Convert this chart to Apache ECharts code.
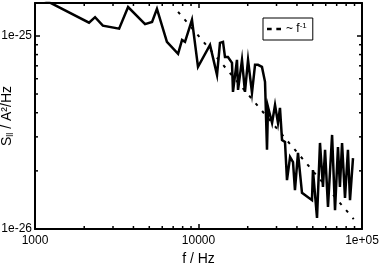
<!DOCTYPE html>
<html><head><meta charset="utf-8">
<script src="https://cdn.jsdelivr.net/npm/echarts@6/dist/echarts.min.js"></script>
<style>html,body{margin:0;padding:0;background:#fff}#c{width:380px;height:265px}</style>
</head><body><div id="c"></div>
<script>
// frequency in Hz; spectral density in units of 1e-26 A²/Hz
const freq = [1000, 2140, 2330, 2600, 3270, 3710, 4710, 5200, 5570, 6410, 7500, 7930, 8270, 9120, 9930, 11760, 12980, 13530, 14120, 14520, 15140, 16030, 16250, 17190, 17450, 18450, 19240, 20090, 21240, 22170, 23110, 24440, 25520, 26240, 26610, 28180, 29380, 30630, 31500, 32430, 33810, 34770, 36310, 37850, 38900, 40600, 42950, 49430, 50120, 53080, 55340, 57700, 59430, 61940, 65620, 68390, 71290, 73280, 75510, 78700, 82040, 84470, 88100];
const psd = [16.3, 11.7, 12.5, 11.3, 10.9, 14.1, 11.5, 11.8, 13.8, 9.31, 8.07, 9.53, 9.31, 12.1, 6.91, 8.98, 6.28, 9.2, 9.31, 7.78, 7.78, 7.25, 5.13, 7.51, 5.25, 7.51, 5.13, 7.51, 5.07, 7.08, 7.08, 6.91, 5.78, 2.57, 4.29, 3.54, 4.39, 3.54, 4.24, 2.89, 2.82, 1.79, 2.36, 2.22, 1.59, 2.48, 1.54, 1.41, 2.02, 1.14, 2.79, 1.65, 2.57, 1.30, 3.07, 1.25, 2.66, 1.65, 2.79, 1.45, 2.57, 1.41, 2.33];
const fitFreq = [7500, 89000];
const fitPsd = [13.33, 1.124];
const xMin = 1000, xMax = 100000;
const yMin = 1, yMax = 14.8;
const xTickLabels = ['1000', '10000', '1e+05'];   // 10^3, 10^4, 10^5 Hz
const yTickLabels = ['1e-26', '1e-25'];           // 1, 10 (x 1e-26)
const xMinorTicks = [2000, 3000, 4000, 5000, 6000, 7000, 8000, 9000, 20000, 30000, 40000, 50000, 60000, 70000, 80000, 90000];
const yMinorTicks = [2, 3, 4, 5, 6, 7, 8, 9];

const FONT = '"Liberation Sans", Arial, sans-serif';
function pow10Label(v, labels, base) {
  const e = Math.log10(v), r = Math.round(e);
  if (Math.abs(e - r) > 1e-6) return '';
  return labels[r - base] || '';
}
const tickData = xMinorTicks.map(v => [v, yMin, 0]).concat(yMinorTicks.map(v => [xMin, v, 1]));

const chart = echarts.init(document.getElementById('c'), null, {renderer: 'canvas'});
const axisLine = {show: true, lineStyle: {color: '#000', width: 2}};
const axisTick = {show: true, inside: true, length: 5, lineStyle: {color: '#000', width: 1.5}};
chart.setOption({
  animation: false,
  backgroundColor: '#fff',
  grid: {left: 35, right: 18, top: 3, bottom: 36, containLabel: false, outerBoundsMode: 'none'},
  legend: {
    left: 263, top: 18, padding: [4, 6, 4, 4],
    borderColor: '#000', borderWidth: 1, borderRadius: 0,
    itemWidth: 14, itemHeight: 10, itemGap: 4,
    data: [{name: 'fit', icon: 'path://M0,4 H4 V6 H0 Z M8,4 H12 V6 H8 Z'}],
    itemStyle: {color: '#000'},
    formatter: () => '~ f{sup|-1}',
    textStyle: {fontFamily: FONT, fontSize: 12, color: '#000', lineHeight: 14,
      rich: {sup: {fontFamily: FONT, fontSize: 8, color: '#000', verticalAlign: 'top', lineHeight: 8}}}
  },
  xAxis: [{
    type: 'log', logBase: 10, min: xMin, max: xMax, position: 'bottom',
    name: 'f / Hz', nameLocation: 'middle', nameGap: 23, nameMoveOverlap: false,
    nameTextStyle: {fontFamily: FONT, fontSize: 14, color: '#000'},
    axisLine, axisTick, splitLine: {show: false},
    axisLabel: {fontFamily: FONT, fontSize: 12, color: '#000', margin: 6,
      formatter: v => pow10Label(v, xTickLabels, 3)}
  }, {
    type: 'log', logBase: 10, min: xMin, max: xMax, position: 'top',
    axisLine, axisTick, splitLine: {show: false}, axisLabel: {show: false}
  }],
  yAxis: [{
    type: 'log', logBase: 10, min: yMin, max: yMax, position: 'left',
    name: '{m|S}{s|ll}{m| / A²/Hz}', nameLocation: 'middle', nameGap: 20, nameRotate: 90,
    nameMoveOverlap: false,
    nameTextStyle: {fontFamily: FONT, fontSize: 14, color: '#000',
      rich: {m: {fontFamily: FONT, fontSize: 14, color: '#000', lineHeight: 16},
             s: {fontFamily: FONT, fontSize: 9, color: '#000', lineHeight: 16, verticalAlign: 'bottom'}}},
    axisLine, axisTick, splitLine: {show: false},
    axisLabel: {fontFamily: FONT, fontSize: 12, color: '#000', margin: 3,
      formatter: v => pow10Label(v, yTickLabels, 0)}
  }, {
    type: 'log', logBase: 10, min: yMin, max: yMax, position: 'right',
    axisLine, axisTick, splitLine: {show: false}, axisLabel: {show: false}
  }],
  series: [{
    name: 'data', type: 'line', xAxisIndex: 0, yAxisIndex: 0,
    data: freq.map((f, i) => [f, psd[i]]),
    showSymbol: false, symbol: 'none', clip: true,
    lineStyle: {color: '#000', width: 2.5, join: 'miter'}
  }, {
    name: 'fit', type: 'line', xAxisIndex: 0, yAxisIndex: 0,
    data: fitFreq.map((f, i) => [f, fitPsd[i]]),
    showSymbol: false, symbol: 'none',
    lineStyle: {color: '#000', width: 2, type: [3, 7]},
    itemStyle: {color: '#000'}
  }, {
    name: 'ticks', type: 'custom', xAxisIndex: 0, yAxisIndex: 0,
    data: tickData, encode: {x: 0, y: 1}, silent: true, z: 5,
    renderItem: (params, api) => {
      const cs = params.coordSys;
      const p = api.coord([api.value(0), api.value(1)]);
      const L = 3, st = {stroke: '#000', lineWidth: 1.5};
      if (api.value(2) === 0) {
        return {type: 'group', children: [
          {type: 'line', shape: {x1: p[0], y1: cs.y + cs.height, x2: p[0], y2: cs.y + cs.height - L}, style: st},
          {type: 'line', shape: {x1: p[0], y1: cs.y, x2: p[0], y2: cs.y + L}, style: st}
        ]};
      }
      return {type: 'group', children: [
        {type: 'line', shape: {x1: cs.x, y1: p[1], x2: cs.x + L, y2: p[1]}, style: st},
        {type: 'line', shape: {x1: cs.x + cs.width, y1: p[1], x2: cs.x + cs.width - L, y2: p[1]}, style: st}
      ]};
    }
  }]
});
</script></body></html>
